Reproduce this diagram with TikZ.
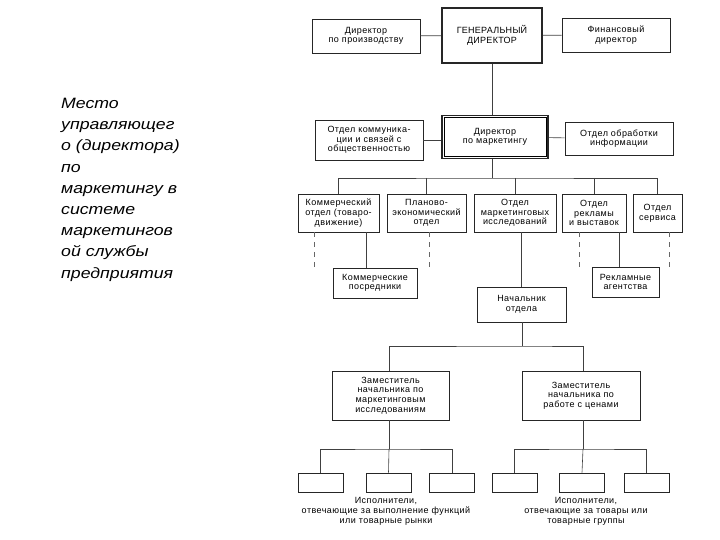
\documentclass[tikz,border=0pt]{standalone}
\usepackage{fontspec}
\setmainfont{Liberation Sans}
\newfontfamily\titlefont[FakeStretch=1.18]{Liberation Sans}
\usetikzlibrary{positioning}

\tikzset{
    box/.style={draw=black!85, line width=0.6pt, align=center, inner sep=1pt,
        font=\fontsize{9}{9.6}\selectfont\addfontfeatures{LetterSpace=5}},
    topbox/.style={box, line width=1.6pt, font=\fontsize{9}{10.5}\selectfont\addfontfeatures{LetterSpace=3}},
    mainbox/.style={box, line width=1.5pt},
    link/.style={draw=black!75, line width=0.6pt},
    maybe/.style={draw=black!60, line width=0.6pt, dash pattern=on 5pt off 5pt},
    note/.style={align=center, font=\fontsize{9}{10}\selectfont\addfontfeatures{LetterSpace=5}}
}

\begin{document}
\begin{tikzpicture}[x=1pt, y=-1pt]

    \useasboundingbox (0,0) rectangle (720,540);

    \node[anchor=north west, align=left, inner sep=0pt, font=\titlefont\fontsize{15}{21.2}\selectfont\itshape] (title) at (61,98)
        {Место\\управляющег\\о (директора)\\по\\маркетингу в\\системе\\маркетингов\\ой службы\\предприятия};

    \node[topbox, minimum width=100pt, minimum height=55pt] (gen) at (492,35.5) {ГЕНЕРАЛЬНЫЙ\\ДИРЕКТОР};
    \node[box, minimum width=108pt, minimum height=34pt] (prod) at (366,36) {Директор\\по производству};
    \node[box, minimum width=108pt, minimum height=34pt] (fin) at (616,35) {Финансовый\\директор};

    \node[mainbox, minimum width=106pt, minimum height=43pt] (mark) at (495,137) {Директор\\по маркетингу};
    \draw[line width=0.5pt] ([shift={(2.8,2.8)}]mark.north west) rectangle ([shift={(-2.8,-2.8)}]mark.south east);
    \node[box, minimum width=108pt, minimum height=40pt] (comm) at (369,140) {Отдел коммуника-\\ции и связей с\\общественностью};
    \node[box, minimum width=108pt, minimum height=33pt] (info) at (619,138.5) {Отдел обработки\\информации};

    \node[box, minimum width=81pt, minimum height=38pt] (ko) at (338.5,213) {Коммерческий\\отдел (товаро-\\движение)};
    \node[box, minimum width=79pt, minimum height=38pt] (plan) at (426.5,213) {Планово-\\экономический\\отдел};
    \node[box, minimum width=82pt, minimum height=38pt] (mrk) at (515,213) {Отдел\\маркетинговых\\исследований};
    \node[box, minimum width=64pt, minimum height=38pt] (rek) at (594,213) {Отдел\\рекламы\\и выставок};
    \node[box, minimum width=49pt, minimum height=38pt] (serv) at (657.5,213) {Отдел\\сервиса};

    \node[box, minimum width=84pt, minimum height=30pt] (posr) at (375,283) {Коммерческие\\посредники};
    \node[box, minimum width=67pt, minimum height=30pt] (agent) at (625.5,282) {Рекламные\\агентства};
    \node[box, minimum width=89pt, minimum height=35pt] (nach) at (521.5,304.5) {Начальник\\отдела};

    \node[box, minimum width=117pt, minimum height=49pt] (zam1) at (390.5,395.5) {Заместитель\\начальника по\\маркетинговым\\исследованиям};
    \node[box, minimum width=118pt, minimum height=49pt] (zam2) at (581,395.5) {Заместитель\\начальника по\\работе с ценами};

    \foreach \n/\x in {e1/320.5, e2/388.5, e3/452, e4/514.5, e5/582, e6/646.5}
        \node[box, minimum width=45pt, minimum height=19pt] (\n) at (\x,482.5) {};

    \node[note, anchor=north] (ispa) at (386,494) {Исполнители,\\отвечающие за выполнение функций\\или товарные рынки};
    \node[note, anchor=north] (ispb) at (586,494) {Исполнители,\\отвечающие за товары или\\товарные группы};

    \coordinate (bus1) at (492,178);
    \coordinate (bus2) at (522,346);
    \coordinate (bus3) at (389,449);
    \coordinate (bus4) at (583,449);

    \draw[link] (prod) -- (gen);
    \draw[link] (gen) -- (fin);
    \draw[link] (gen.south) -- (gen.south |- mark.north);
    \draw[link] (comm) -- (comm -| mark.west);
    \draw[link] (mark) -- (info);

    \draw[link] (mark.south -| bus1) -- (bus1);
    \draw[link] (ko.north) |- (bus1) -| (serv.north);
    \foreach \n in {plan, mrk, rek}
        \draw[link] (bus1 -| \n.north) -- (\n.north);

    \draw[maybe] ([xshift=-24pt]ko.south) -- ++(0,36);
    \draw[link] ([xshift=28pt]ko.south) -- ([xshift=28pt]ko.south |- posr.north);
    \draw[maybe] ([xshift=2.5pt]plan.south) -- ++(0,36);
    \draw[link] (nach.north |- mrk.south) -- (nach.north);
    \draw[maybe] ([xshift=-15pt]rek.south) -- ++(0,36);
    \draw[link] ([xshift=25pt]rek.south) -- ([xshift=25pt]rek.south |- agent.north);
    \draw[maybe] ([xshift=11.5pt]serv.south) -- ++(0,36);

    \draw[link] (nach.south -| bus2) -- (bus2);
    \draw[link] (zam1.north -| bus3) |- (bus2) -| (zam2.north -| bus4);

    \draw[link] (zam1.south -| bus3) -- (bus3);
    \draw[link] (e1.north) |- (bus3) -| (e3.north);
    \draw[link] (bus3) -- (e2.north);

    \draw[link] (zam2.south -| bus4) -- (bus4);
    \draw[link] (e4.north) |- (bus4) -| (e6.north);
    \draw[link] (bus4) -- (e5.north);

\end{tikzpicture}
\end{document}
